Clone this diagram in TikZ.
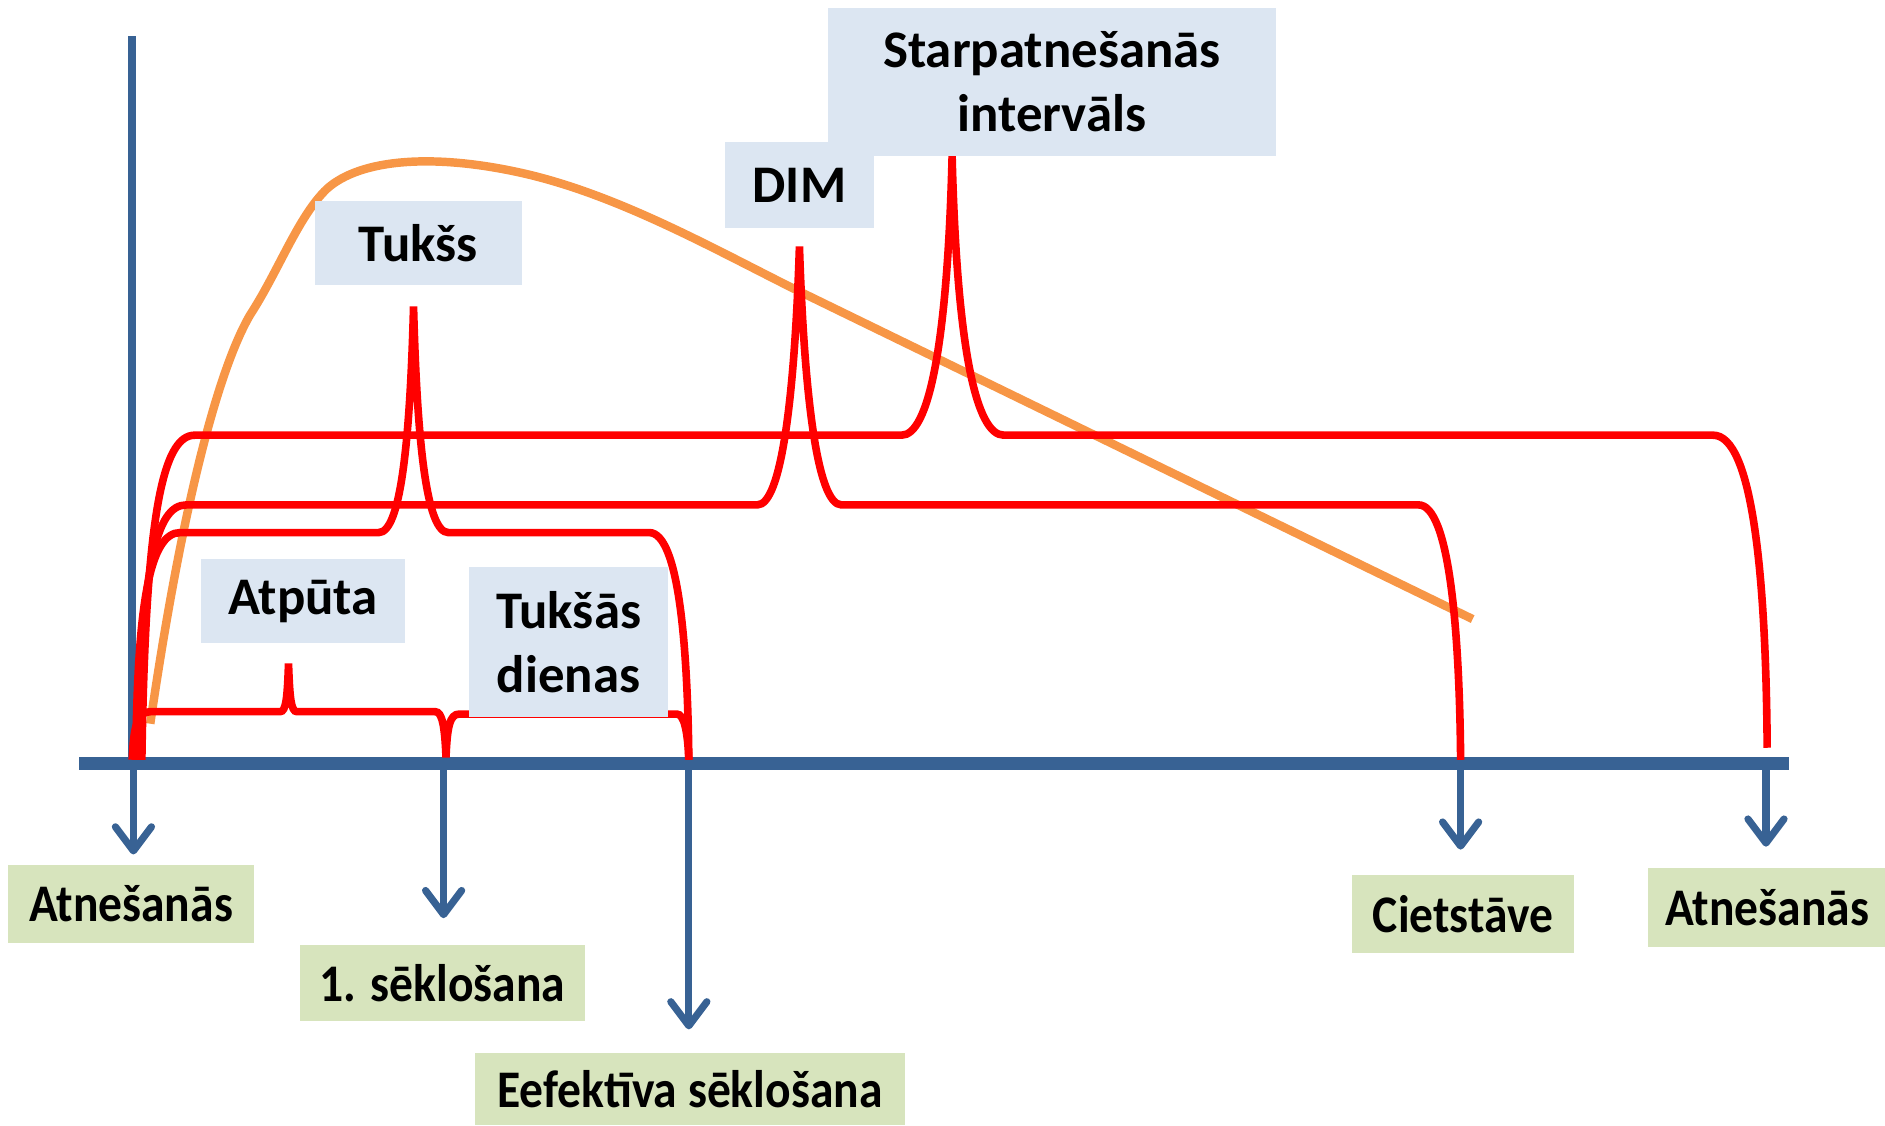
\documentclass[tikz,border=0pt]{standalone}
\usepackage{fontspec}
\setmainfont{Carlito}
\newfontfamily\narrowfont[FakeStretch=0.9]{Carlito}
\usetikzlibrary{arrows.meta}
\definecolor{axblue}{RGB}{56,98,148}
\definecolor{lblblue}{RGB}{220,230,242}
\definecolor{lblgreen}{RGB}{215,228,189}
\definecolor{trendorange}{RGB}{247,150,70}

\begin{document}
\begin{tikzpicture}[x=0.01cm, y=-0.01cm]
    \tikzstyle{every node}+=[inner sep=0pt, align=center, font=\fontsize{12.5}{15}\selectfont\bfseries]
    \tikzstyle{topbox}=[fill=lblblue]
    \tikzstyle{botbox}=[fill=lblgreen, font=\fontsize{12.5}{15}\selectfont\narrowfont\bfseries]
    \tikzstyle{axis}=[axblue, line width=3pt]
    \tikzstyle{yaxis}=[axblue, line width=1.8pt]
    \tikzstyle{tick}=[axblue, line width=1.7pt, -{Straight Barb[length=2mm, width=3mm, round]}]
    \tikzstyle{phase}=[red, line width=1.8pt]
    \tikzstyle{trend}=[trendorange, line width=2pt]
    \useasboundingbox (0,0) rectangle (1568,936);
    \draw [yaxis] (110,30) -- (110,638);
    \draw [axis] (66,635) -- (1488,635);
    \draw [trend] (125,602) .. controls (150,430) and (180,310) .. (208,262)
        .. controls (232,225) and (248,180) .. (272,157)
        .. controls (300,132) and (360,128) .. (430,143)
        .. controls (510,160) and (590,205) .. (660,240) -- (1225,515);
    \draw [phase] (118,632) .. controls (121,430) and (135,362) .. (162,362) -- (750,362)
        .. controls (772,362) and (788,290) .. (792,130)
        .. controls (796,290) and (812,362) .. (835,362) -- (1425,362)
        .. controls (1458,362) and (1469,480) .. (1470,622);
    \draw [phase] (115,632) .. controls (117,470) and (130,420) .. (155,420) -- (630,420)
        .. controls (650,420) and (661,330) .. (665,205)
        .. controls (669,330) and (680,420) .. (700,420) -- (1180,420)
        .. controls (1205,420) and (1214,520) .. (1215,632);
    \draw [phase] (113,632) .. controls (114,500) and (125,443) .. (150,443) -- (315,443)
        .. controls (333,443) and (341,370) .. (344,255)
        .. controls (347,370) and (355,443) .. (373,443) -- (540,443)
        .. controls (565,443) and (572,540) .. (573,632);
    \draw [phase] (110,632) .. controls (111,605) and (114,592) .. (125,592) -- (233,592)
        .. controls (238,592) and (239,580) .. (240,552)
        .. controls (241,580) and (242,592) .. (247,592) -- (362,592)
        .. controls (368,592) and (370,605) .. (371,630)
        .. controls (372,605) and (374,594) .. (382,594) -- (563,594)
        .. controls (569,594) and (572,608) .. (573,632);
    \node [topbox, minimum width=1.72cm, minimum height=0.70cm] (tukss) at (348,202) {Tukšs};
    \node [topbox, minimum width=1.24cm, minimum height=0.71cm] (dim) at (665,154) {DIM};
    \node [topbox, minimum width=3.72cm, minimum height=1.23cm] (starp) at (875,68) {Starpatnešanās\\intervāls};
    \node [topbox, minimum width=1.70cm, minimum height=0.70cm] (atputa) at (252,500) {Atpūta};
    \node [topbox, minimum width=1.65cm, minimum height=1.24cm] (tuksdien) at (473,534) {Tukšās\\dienas};
    \node [botbox, minimum width=2.04cm, minimum height=0.65cm] (atnes1) at (109,752) {Atnešanās};
    \node [botbox, minimum width=2.37cm, minimum height=0.63cm] (seklos1) at (368,818) {1. sēklošana};
    \node [botbox, minimum width=3.58cm, minimum height=0.60cm] (efekt) at (574,906) {Eefektīva sēklošana};
    \node [botbox, minimum width=1.85cm, minimum height=0.65cm] (cietst) at (1217,760) {Cietstāve};
    \node [botbox, minimum width=1.99cm, minimum height=0.66cm] (atnes2) at (1470,755) {Atnešanās};
    \coordinate (t1) at (111,635);
    \coordinate (t2) at (369,635);
    \coordinate (t3) at (573,635);
    \coordinate (t4) at (1215,635);
    \coordinate (t5) at (1469,635);
    \draw [tick, shorten >=0.08cm] (t1) -- (t1 |- atnes1.north);
    \draw [tick, shorten >=0.22cm] (t2) -- (t2 |- seklos1.north);
    \draw [tick, shorten >=0.19cm] (t3) -- (t3 |- efekt.north);
    \draw [tick, shorten >=0.20cm] (t4) -- (t4 |- cietst.north);
    \draw [tick, shorten >=0.17cm] (t5) -- (t5 |- atnes2.north);
    \end{tikzpicture}
\end{document}
